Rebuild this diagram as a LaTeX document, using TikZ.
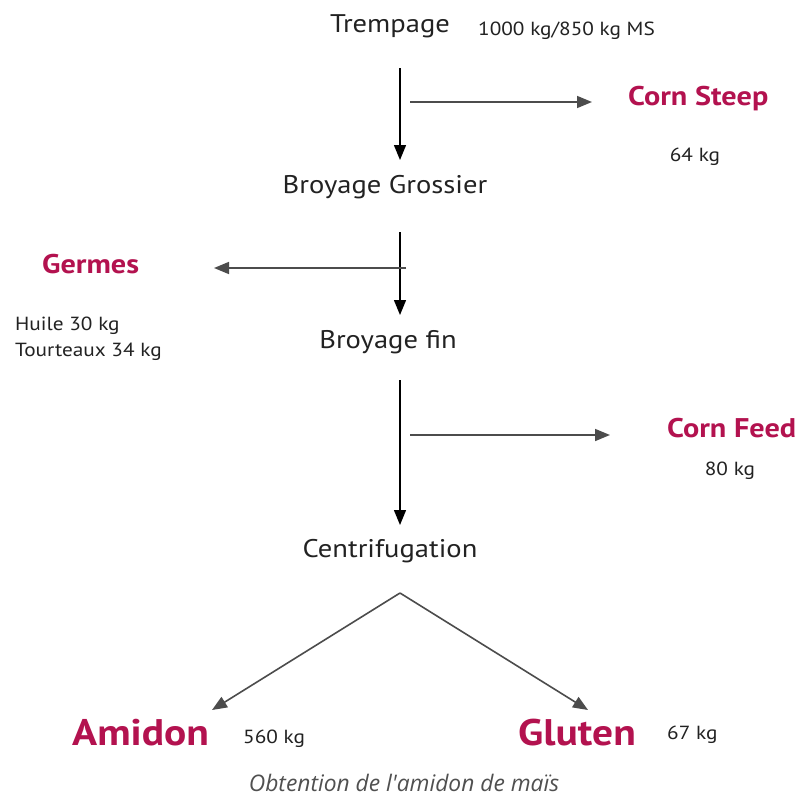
\documentclass[tikz,border=0pt]{standalone}
\usepackage{fontspec}
\setmainfont{PT Sans}[FakeStretch=1.12]
\newfontfamily\capfont{Open Sans}
\usetikzlibrary{arrows.meta}
\definecolor{crim}{HTML}{B3124F}
\definecolor{txt}{HTML}{222222}
\definecolor{cap}{HTML}{505050}
\tikzset{
  stepname/.style={text=txt, font=\fontsize{25.5}{30}\selectfont, inner sep=0pt},
  qty/.style={text=txt, font=\fontsize{19}{22}\selectfont, inner sep=0pt},
  prod/.style={text=crim, font=\bfseries\fontsize{27}{31}\selectfont, inner sep=0pt},
  bigprod/.style={text=crim, font=\bfseries\fontsize{37}{42}\selectfont, inner sep=0pt},
  flow/.style={draw=black, line width=1.4pt, -{Triangle[length=15pt,width=12pt]}},
  side/.style={draw=black!70, line width=1.6pt, -{Triangle[length=15pt,width=12pt]}},
}
\begin{document}
\begin{tikzpicture}[x=1pt,y=-1pt]
\useasboundingbox (0,0) rectangle (796,798);
\fill[white] (0,0) rectangle (796,798);
% steps
\node[stepname] (tremp) at (390,26) {Trempage};
\node[qty, anchor=west] (masse) at (478,31) {1000 kg/850 kg MS};
\node[stepname] (bg) at (385,187) {Broyage Grossier};
\node[stepname] (bf) at (388,342) {Broyage fin};
\node[stepname] (centri) at (390,551) {Centrifugation};
% products
\node[prod, anchor=west] (cs) at (628,99) {Corn Steep};
\node[qty] (cskg) at (695,157) {64 kg};
\node[prod, anchor=west] (germ) at (42,264) {Germes};
\node[qty, anchor=west] (huile) at (15,326) {Huile 30 kg};
\node[qty, anchor=west] (tourt) at (15,352) {Tourteaux 34 kg};
\node[prod, anchor=west] (cf) at (667,428) {Corn Feed};
\node[qty] (cfkg) at (730,471) {80 kg};
\node[bigprod, anchor=west] (amidon) at (72,733) {Amidon};
\node[qty, anchor=west] (amkg) at (243,739) {560 kg};
\node[bigprod, anchor=west] (gluten) at (518,733) {Gluten};
\node[qty, anchor=west] (glkg) at (667,735) {67 kg};
\node[text=cap, font=\capfont\itshape\fontsize{22.8}{26}\selectfont, inner sep=0pt] (caption) at (404,783) {Obtention de l'amidon de maïs};
% coordinates
\coordinate (a1s) at (400,68);  \coordinate (a1e) at (400,160);
\coordinate (h1s) at (410,102); \coordinate (h1e) at (592,102);
\coordinate (a2s) at (400,232); \coordinate (a2e) at (400,315);
\coordinate (h2s) at (406,268); \coordinate (h2e) at (214,268);
\coordinate (a3s) at (400,380); \coordinate (a3e) at (400,525);
\coordinate (h3s) at (410,435); \coordinate (h3e) at (610,435);
\coordinate (apex) at (400,593);
\coordinate (lend) at (212,710); \coordinate (rend) at (588,710);
% arrows
\draw[flow] (a1s) -- (a1e);
\draw[side] (h1s) -- (h1e);
\draw[flow] (a2s) -- (a2e);
\draw[side] (h2s) -- (h2e);
\draw[flow] (a3s) -- (a3e);
\draw[side] (h3s) -- (h3e);
\draw[side] (apex) -- (lend);
\draw[side] (apex) -- (rend);
\end{tikzpicture}
\end{document}
